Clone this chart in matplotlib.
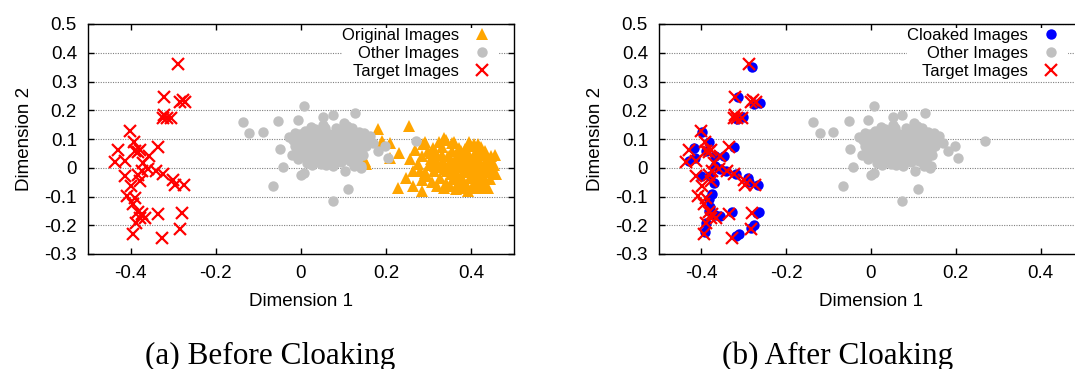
import numpy as np
import matplotlib
matplotlib.use("Agg")
import matplotlib.pyplot as plt

plt.rcParams['font.family'] = ['Liberation Sans', 'DejaVu Sans']
plt.rcParams['axes.unicode_minus'] = False

# target images (same embedding in both panels)
target_x = [-0.288, -0.321, -0.284, -0.272, -0.278, -0.323, -0.315, -0.304, -0.321,
            -0.402, -0.429, -0.437, -0.413, -0.391, -0.390, -0.382, -0.378, -0.356,
            -0.335, -0.370, -0.374, -0.382, -0.378, -0.358, -0.340, -0.323, -0.300,
            -0.296, -0.274, -0.413, -0.398, -0.409, -0.390, -0.394, -0.382, -0.374,
            -0.366, -0.378, -0.335, -0.280, -0.284, -0.388, -0.394, -0.327]
target_y = [0.362, 0.246, 0.228, 0.228, 0.234, 0.174, 0.174, 0.174, 0.182,
            0.129, 0.062, 0.019, 0.022, 0.089, 0.059, 0.054, 0.062, 0.042,
            0.073, 0.015, -0.010, -0.024, -0.045, -0.005, -0.010, -0.022, -0.043,
            -0.059, -0.059, -0.030, -0.065, -0.098, -0.104, -0.127, -0.153, -0.162,
            -0.174, -0.176, -0.162, -0.159, -0.214, -0.193, -0.230, -0.246]

# cloaked versions of the target images
cloaked_x = [-0.281, -0.313, -0.262, -0.275, -0.303, -0.315, -0.398, -0.418, -0.429,
             -0.414, -0.383, -0.390, -0.367, -0.347, -0.323, -0.367, -0.355, -0.343,
             -0.319, -0.291, -0.287, -0.267, -0.402, -0.379, -0.371, -0.375, -0.383,
             -0.379, -0.383, -0.367, -0.355, -0.327, -0.264, -0.270, -0.275, -0.283,
             -0.390, -0.392, -0.319, -0.311]
cloaked_y = [0.352, 0.245, 0.224, 0.222, 0.177, 0.169, 0.126, 0.068, 0.023,
             0.033, 0.088, 0.058, 0.041, 0.041, 0.072, 0.006, -0.006, -0.012,
             -0.023, -0.035, -0.049, -0.061, -0.029, -0.029, -0.053, -0.093, -0.107,
             -0.138, -0.152, -0.163, -0.169, -0.154, -0.154, -0.157, -0.198, -0.210,
             -0.193, -0.222, -0.239, -0.231]

# other (non-target) images
other_x = [-0.137, -0.121, -0.089, -0.053, -0.065, 0.006, -0.006, 0.052, 0.074, 0.127,
           0.101, -0.049, -0.043, 0.074, 0.111, 0.181, 0.197, 0.205, 0.161, 0.270,
           0.124, 0.104, 0.006, 0.000, 0.140, 0.142, 0.170,
           0.012, 0.025, 0.034, 0.041, 0.048, 0.055, 0.061, 0.068, 0.073, 0.079,
           0.085, 0.091, 0.097, 0.104, 0.110, 0.117, 0.123, 0.130, 0.136, 0.142,
           -0.018, -0.010, -0.004, 0.003, 0.009, 0.016, 0.021, 0.028, 0.032, 0.038,
           0.044, 0.050, 0.053, 0.058, 0.063, 0.066, 0.070, 0.076, 0.081, 0.087,
           0.093, 0.099, 0.106, 0.112, 0.119, 0.126, 0.133, 0.139, 0.148, 0.152,
           -0.028, -0.022, -0.013, -0.007, 0.001, 0.006, 0.013, 0.019, 0.024, 0.030,
           0.036, 0.042, 0.046, 0.051, 0.057, 0.060, 0.064, 0.071, 0.075, 0.078,
           0.083, 0.088, 0.094, 0.100, 0.107, 0.114, 0.120, 0.127, 0.135, 0.145,
           0.020, 0.027, 0.039, 0.045, 0.049, 0.054, 0.059, 0.062, 0.067, 0.072,
           0.077, 0.082, 0.086, 0.090, 0.095, 0.101, 0.108, 0.115, 0.121, 0.131,
           0.004, 0.015, 0.023, 0.031, 0.037, 0.043, 0.047, 0.056, 0.065, 0.069,
           0.074, 0.080, 0.084, 0.092, 0.098, 0.103, 0.109, 0.116, 0.125, 0.138,
           -0.015, -0.002, 0.010, 0.018, 0.026, 0.035, 0.052, 0.058, 0.079, 0.096,
           0.113, 0.128, 0.144, 0.155, 0.033, 0.061, 0.089, 0.070, 0.047, 0.082]
other_y = [0.158, 0.122, 0.126, 0.161, -0.062, 0.216, 0.166, 0.177, 0.183, 0.189,
           0.157, 0.064, 0.002, -0.117, -0.075, 0.058, 0.076, 0.035, 0.111, 0.094,
           0.006, -0.012, -0.017, -0.025, 0.000, 0.005, 0.085,
           0.108, 0.121, 0.095, 0.082, 0.069, 0.074, 0.088, 0.063, 0.052, 0.097,
           0.071, 0.084, 0.058, 0.111, 0.066, 0.092, 0.047, 0.078, 0.103, 0.061,
           0.095, 0.061, 0.082, 0.047, 0.128, 0.073, 0.039, 0.058, 0.136, 0.111,
           0.043, 0.097, 0.028, 0.119, 0.051, 0.101, 0.080, 0.036, 0.121, 0.049,
           0.103, 0.075, 0.039, 0.128, 0.070, 0.115, 0.034, 0.086, 0.122, 0.074,
           0.108, 0.044, 0.121, 0.029, 0.100, 0.064, 0.018, 0.091, 0.143, 0.024,
           0.067, 0.125, 0.012, 0.056, 0.140, 0.032, 0.077, 0.114, 0.005, 0.066,
           0.140, 0.090, 0.020, 0.127, 0.083, 0.022, 0.140, 0.059, 0.125, 0.044,
           0.082, 0.104, 0.053, 0.089, 0.112, 0.045, 0.063, 0.093, 0.040, 0.096,
           0.082, 0.058, 0.109, 0.066, 0.088, 0.051, 0.098, 0.057, 0.083, 0.097,
           0.079, 0.052, 0.062, 0.087, 0.031, 0.104, 0.078, 0.085, 0.118, 0.024,
           0.072, 0.042, 0.083, 0.125, 0.093, 0.070, 0.145, 0.105, 0.072, 0.064,
           0.075, 0.118, 0.039, 0.113, 0.009, 0.116, 0.148, 0.010, 0.017, 0.036,
           0.044, 0.018, 0.098, 0.088, 0.074, 0.070, 0.078, 0.055, 0.060, 0.101]

# original (uncloaked) images of the protected user
orig_x = [0.181, 0.253, 0.191, 0.210, 0.231, 0.150, 0.153, 0.210, 0.257, 0.286,
          0.299, 0.336, 0.355, 0.375, 0.406, 0.438, 0.263, 0.246, 0.227, 0.263,
          0.283, 0.284, 0.292, 0.315, 0.440,
          0.305, 0.312, 0.318, 0.322, 0.327, 0.331, 0.334, 0.338, 0.341, 0.345,
          0.348, 0.351, 0.354, 0.357, 0.360, 0.362, 0.365, 0.367, 0.370, 0.372,
          0.375, 0.377, 0.380, 0.382, 0.384, 0.386, 0.388, 0.390, 0.392, 0.394,
          0.396, 0.398, 0.400, 0.402, 0.404, 0.406, 0.408, 0.410, 0.412, 0.414,
          0.416, 0.418, 0.420, 0.422, 0.425, 0.428, 0.430, 0.433, 0.436, 0.438,
          0.441, 0.444, 0.447, 0.450, 0.455, 0.458, 0.452, 0.446, 0.432, 0.423,
          0.415, 0.395, 0.372, 0.358, 0.340, 0.325, 0.310, 0.300, 0.296, 0.308,
          0.320, 0.335, 0.350, 0.365, 0.378, 0.392, 0.405, 0.418, 0.436, 0.426,
          0.385, 0.366, 0.352, 0.343, 0.332, 0.362, 0.376, 0.398, 0.410, 0.390,
          0.371, 0.355, 0.330, 0.318, 0.285, 0.275, 0.268, 0.290, 0.305, 0.280]
orig_y = [0.134, 0.146, 0.093, 0.087, 0.052, 0.023, 0.012, 0.035, 0.029, 0.082,
          0.058, 0.105, 0.087, 0.058, 0.082, 0.029, -0.012, -0.037, -0.070, -0.064,
          -0.082, -0.041, -0.017, 0.006, -0.072,
          0.030, -0.010, 0.052, 0.012, -0.035, 0.071, 0.025, -0.005, -0.052, 0.040,
          0.008, -0.022, 0.060, -0.040, 0.018, -0.008, 0.035, -0.060, 0.002, 0.050,
          -0.028, 0.022, -0.045, 0.010, 0.066, -0.015, 0.032, -0.065, 0.000, 0.045,
          -0.035, 0.015, 0.075, -0.020, 0.028, -0.052, 0.005, 0.058, -0.010, 0.038,
          -0.040, 0.020, -0.070, -0.002, 0.046, -0.028, 0.012, -0.055, 0.030, -0.015,
          0.005, -0.038, 0.022, -0.008, 0.045, -0.020, 0.008, 0.040, 0.060, 0.072,
          0.082, 0.088, 0.070, 0.090, 0.095, 0.090, 0.068, 0.010, -0.030, -0.048,
          -0.062, -0.070, -0.065, -0.075, -0.070, -0.080, -0.072, -0.058, -0.072, -0.045,
          0.040, 0.006, 0.028, -0.012, 0.045, -0.030, 0.042, -0.005, 0.025, 0.020,
          -0.050, 0.015, 0.002, 0.028, 0.040, 0.012, 0.062, 0.090, 0.052, -0.010]

xticks = [-0.4, -0.2, 0, 0.2, 0.4]
xtick_labels = ['-0.4', '-0.2', '0', '0.2', '0.4']
yticks = [-0.3, -0.2, -0.1, 0, 0.1, 0.2, 0.3, 0.4, 0.5]
ytick_labels = ['-0.3', '-0.2', '-0.1', '0', '0.1', '0.2', '0.3', '0.4', '0.5']

ORANGE = '#ffa500'
GRAY = '#c0c0c0'
RED = '#ff0000'
BLUE = '#0000ff'


def style_axes(ax):
    ax.set_xlim(-0.5, 0.5)
    ax.set_ylim(-0.3, 0.5)
    ax.set_xticks(xticks)
    ax.set_xticklabels(xtick_labels)
    ax.set_yticks(yticks)
    ax.set_yticklabels(ytick_labels)
    ax.tick_params(direction='in', length=4, width=1, labelsize=13.5, pad=8,
                   top=True, right=True)
    ax.yaxis.grid(True, linestyle=(0, (1, 1.2)), color='#808080', linewidth=0.8)
    ax.set_axisbelow(True)
    for s in ax.spines.values():
        s.set_linewidth(1.0)
    ax.set_xlabel('Dimension 1', fontsize=13.5, labelpad=8)
    ax.set_ylabel('Dimension 2', fontsize=13.5, labelpad=8)


def add_key(ax):
    leg = ax.legend(loc='upper right', bbox_to_anchor=(0.965, 0.983),
                    borderaxespad=0, markerfirst=False, fontsize=12,
                    handlelength=2.0, handletextpad=0.4, labelspacing=0.17,
                    borderpad=0.0, frameon=True, fancybox=False, framealpha=1)
    leg.get_frame().set_edgecolor('none')
    leg.get_frame().set_facecolor('white')


fig = plt.figure(figsize=(10.75, 3.69), dpi=100)
ax_a = fig.add_axes([88 / 1075, 1 - 254 / 369, 426 / 1075, 230 / 369])
ax_b = fig.add_axes([659 / 1075, 1 - 254 / 369, 424 / 1075, 230 / 369])

# (a) before cloaking
ax_a.plot(orig_x, orig_y, '^', color=ORANGE, ms=8.5, mew=0, label='Original Images')
ax_a.plot(other_x, other_y, 'o', color=GRAY, ms=7.5, mew=0, label='Other Images')
ax_a.plot(target_x, target_y, 'x', color=RED, ms=8, mew=1.6, label='Target Images')
style_axes(ax_a)
add_key(ax_a)

# (b) after cloaking
ax_b.plot(cloaked_x, cloaked_y, 'o', color=BLUE, ms=7.5, mew=0, label='Cloaked Images')
ax_b.plot(other_x, other_y, 'o', color=GRAY, ms=7.5, mew=0, label='Other Images')
ax_b.plot(target_x, target_y, 'x', color=RED, ms=8, mew=1.6, label='Target Images')
style_axes(ax_b)
add_key(ax_b)

fig.text(270 / 1075, 5 / 369, '(a) Before Cloaking', ha='center', va='baseline',
         fontsize=22.5, family=['Liberation Serif', 'DejaVu Serif'])
fig.text(838 / 1075, 5 / 369, '(b) After Cloaking', ha='center', va='baseline',
         fontsize=22.5, family=['Liberation Serif', 'DejaVu Serif'])

fig.savefig('out.png', dpi=100)
